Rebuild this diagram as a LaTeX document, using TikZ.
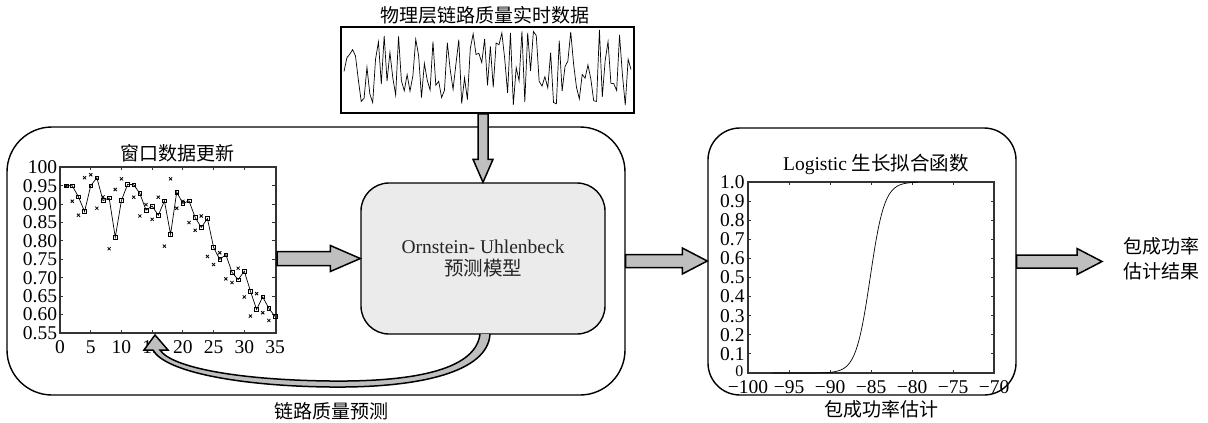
\documentclass[tikz,border=0pt]{standalone}
\usepackage{fontspec}
\setmainfont{Liberation Serif}
\newfontfamily\cjk{Noto Sans CJK SC}
\usetikzlibrary{calc,positioning,plotmarks}
\definecolor{arrowgray}{HTML}{BFBFBF}
\definecolor{boxgray}{HTML}{EBEBEB}
\definecolor{axisgray}{HTML}{333333}

\tikzset{
  panel/.style={draw,line width=1.4pt,rounded corners=#1,inner sep=0pt},
  axisframe/.style={draw=axisgray,line width=2.4pt,inner sep=0pt},
  fatarr/.style={draw,line width=1.5pt,fill=arrowgray,line join=miter},
  lbl/.style={font=\fontsize{19.5}{22}\selectfont,inner sep=0pt},
  cjklbl/.style={font=\cjk\fontsize{19}{25}\selectfont,inner sep=0pt},
}

% half shaft, half head, head length, from, to
\newcommand{\fatarrow}[5]{%
  \path ($(#5)!#3pt!(#4)$) coordinate (fa-h);
  \draw[fatarr] ($(#4)!#1pt!90:(#5)$) -- ($(fa-h)!#1pt!-90:(#4)$)
    -- ($(fa-h)!#2pt!-90:(#4)$) -- (#5) -- ($(fa-h)!#2pt!90:(#4)$)
    -- ($(fa-h)!#1pt!90:(#4)$) -- ($(#4)!#1pt!-90:(#5)$) -- cycle;}

\begin{document}
\begin{tikzpicture}[x=1pt,y=-1pt]
  \useasboundingbox (0,0) rectangle (1208,423);

  % raw link quality feed
  \node[draw,line width=1.6pt,minimum width=293pt,minimum height=86pt,inner sep=0pt] (noise) at (487.5,70) {};
  \node[cjklbl] (noisetitle) at (485,15) {物理层链路质量实时数据};
  \pgfmathsetseed{11}
  \draw[line width=0.7pt] plot[domain=0:100,samples=101] ({344+2.87*\x},{70+40*rand});

  % window box and predictor
  \node[panel=45pt,minimum width=618pt,minimum height=268pt] (winbox) at (316,261) {};
  \node[panel=28pt,fill=boxgray,minimum width=244pt,minimum height=151pt,align=center,lbl,text=black!85] (ou) at (483,258.5)
    {Ornstein- Uhlenbeck\\{\cjk 预测模型}};

  % window plot
  \node[axisframe,minimum width=216pt,minimum height=166pt] (wplot) at (168,250) {};
  \node[cjklbl] (wtitle) at (177,153) {窗口数据更新};
  \begin{scope}[shift={(60,535.4)},x=6.143pt,y=368pt]
    \foreach \v in {0.55,0.60,...,1.0} {
      \draw[axisgray,line width=1pt] (0,\v) -- ++(3pt,0);
      \draw[axisgray,line width=1pt] (35,\v) -- ++(-3pt,0);
    }
    \foreach \k in {0,5,...,35} {
      \draw[axisgray,line width=1pt] (\k,0.55) -- ++(0,3pt);
      \draw[axisgray,line width=1pt] (\k,1.0) -- ++(0,-3pt);
      \node[lbl] (wx\k) at (\k,0.512) {\k};
    }
    \foreach \v/\t in {0.55/0.55,0.60/0.60,0.65/0.65,0.70/0.70,0.75/0.75,
                       0.80/0.80,0.85/0.85,0.90/0.90,0.95/0.95,1.0/100}
      \node[lbl,anchor=east] (wy\t) at (-0.45,\v) {\t};
    \draw[line width=0.7pt,mark=square,mark size=1.8pt,mark options={solid,line width=0.6pt}]
      plot coordinates {(1,.95) (2,.95) (3,.92) (4,.88) (5,.95) (6,.972) (7,.91)
      (8,.917) (9,.81) (10,.91) (11,.954) (12,.953) (13,.929) (14,.884) (15,.895)
      (16,.87) (17,.909) (18,.818) (19,.933) (20,.902) (21,.909) (22,.864) (23,.837)
      (24,.861) (25,.783) (26,.75) (27,.763) (28,.715) (29,.695) (30,.718) (31,.664)
      (32,.614) (33,.648) (34,.617) (35,.595)};
    \draw[only marks,mark=x,mark size=2.2pt,mark options={line width=0.8pt}]
      plot coordinates {(1,.95) (2,.908) (3,.87) (4,.972) (5,.98) (6,.889) (7,.92)
      (8,.779) (9,.94) (10,.969) (12,.919) (13,.868) (14,.899) (15,.859) (16,.919)
      (17,.786) (18,.969) (19,.889) (20,.908) (21,.85) (22,.829) (23,.868) (24,.758)
      (25,.736) (26,.768) (27,.697) (28,.687) (29,.726) (30,.648) (31,.596) (32,.657)
      (33,.605) (34,.584)};
  \end{scope}

  % logistic fit box
  \node[panel=32pt,minimum width=308pt,minimum height=267pt] (fitbox) at (862,261.5) {};
  \node[axisframe,minimum width=246pt,minimum height=191pt] (lplot) at (871,277.5) {};
  \node[lbl] (ltitle) at (876,164) {Logistic {\cjk 生长拟合函数}};
  \begin{scope}[shift={(748,373)},x=8.2pt,y=191pt]
    \foreach \i in {0,...,10} {
      \draw[axisgray,line width=1pt] (0,\i/10) -- ++(3pt,0);
      \draw[axisgray,line width=1pt] (30,\i/10) -- ++(-3pt,0);
    }
    \foreach \k in {0,5,...,30} {
      \draw[axisgray,line width=1pt] (\k,0) -- ++(0,3pt);
      \draw[axisgray,line width=1pt] (\k,1) -- ++(0,-3pt);
    }
    \foreach \v/\t in {0.1/0.1,0.2/0.2,0.3/0.3,0.4/0.4,0.5/0.5,0.6/0.6,0.7/0.7,0.8/0.8,0.9/0.9,1/1.0}
      \node[lbl,anchor=east] (ly\t) at (-0.4,\v) {\t};
    \node[lbl,anchor=east,font=\fontsize{16}{18}\selectfont] (ly0) at (-0.55,0.01) {0};
    \foreach \k/\t in {0/100,5/95,10/90,15/85,20/80,25/75,30/70}
      \node[lbl] (lx\t) at (\k,-0.074) {−\t};
    \draw[line width=0.7pt] plot[domain=-97:-79.3,samples=90] ({\x+100},{1/(1+exp(min(9,-1.15*(\x+85.1))))});
  \end{scope}
  \node[cjklbl] (fitlabel) at (881,409) {包成功率估计};

  % outputs
  \node[cjklbl,align=center] (result) at (1161,259) {包成功率\\估计结果};
  \coordinate (resin) at (1102,261.5);

  % connectors
  \coordinate (feedout) at (ou.north |- noise.south);
  \fatarrow{5}{10}{23}{feedout}{ou.north}
  \coordinate (plotout) at (wplot.east |- ou.west);
  \fatarrow{7}{13}{30}{plotout}{ou.west}
  \coordinate (fitin) at (winbox.east -| fitbox.west);
  \fatarrow{6.5}{13}{25}{winbox.east}{fitin}
  \coordinate (fitout) at (fitbox.east |- resin);
  \fatarrow{6.5}{13}{25}{fitout}{resin}

  % feedback of the prediction
  \draw[fatarr] (490,334) .. controls (488,372) and (420,388) .. (330,387)
    .. controls (240,386) and (165,372) .. (153,350) -- (144,350) -- (155,335)
    -- (168,350) -- (160,350) .. controls (172,368) and (240,380) .. (330,381)
    .. controls (420,382) and (476,368) .. (480,334);
  \node[cjklbl] (predlabel) at (331,411) {链路质量预测};
\end{tikzpicture}
\end{document}
